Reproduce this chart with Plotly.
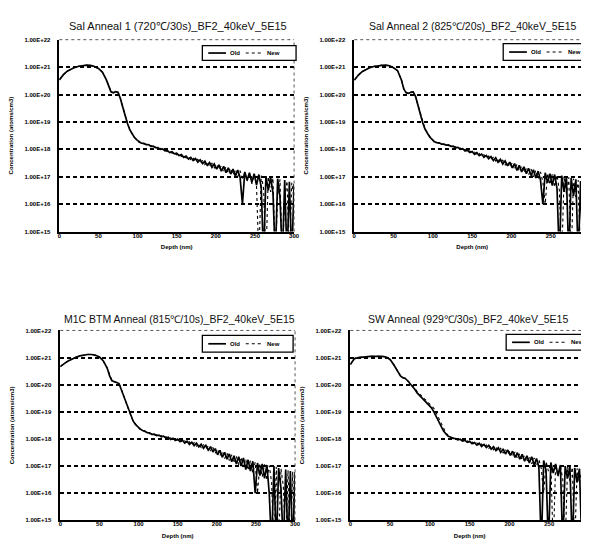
import plotly.graph_objects as go

# ---------------- data ----------------
depth = [0, 2, 5, 10, 15, 20, 25, 30, 35, 40, 45, 50, 55, 60, 63, 66, 69, 72, 75, 78, 81, 84, 87, 90, 93, 96, 99,
         102, 105, 108, 111, 114, 117, 120, 123, 126, 129, 132, 135, 138, 141, 144, 147, 150, 153, 156, 159,
         162, 165, 168, 171, 174, 177, 180, 183, 186, 189, 192, 195, 198, 201, 204, 207, 210, 213, 216, 219,
         222, 225, 228, 231, 234, 237, 240, 243, 246, 249, 252, 255, 258, 261, 264, 267, 270, 273, 276, 279,
         282, 285, 288, 291, 294, 297, 300]

p1_old = [3.4e20, 4.2e20, 5.2e20, 7.1e20, 8.5e20, 9.8e20, 1.07e21, 1.15e21, 1.17e21, 1.15e21, 1.05e21, 8.9e20, 6.6e20,
          3.5e20, 2.0e20, 1.26e20, 1.15e20, 1.26e20, 1.2e20, 7.1e19, 3.5e19, 1.6e19, 8.9e18, 5.2e18, 3.5e18, 2.7e18, 2.2e18,
          1.85e18, 1.68e18, 1.66e18, 1.47e18, 1.48e18, 1.29e18, 1.30e18, 1.14e18, 1.16e18, 1.0e18, 1.03e18, 8.8e17,
          9.1e17, 7.6e17, 8.1e17, 6.8e17, 7.2e17, 5.9e17, 6.4e17, 5.1e17, 5.7e17, 4.4e17, 5.1e17, 3.9e17, 4.6e17, 3.4e17,
          4.1e17, 3.0e17, 3.7e17, 2.6e17, 3.3e17, 2.2e17, 2.9e17, 1.9e17, 2.7e17, 1.6e17, 2.4e17, 1.4e17, 2.1e17,
          1.25e17, 1.9e17, 1.05e17, 1.75e17, 9.5e16, 1.0e16, 1.5e17, 7.5e16, 1.4e17, 6.2e16, 1.3e17, 5.0e16, 1.2e17,
          4.2e16, 1e14, 1.05e17, 3.2e16, 9.5e16, 2.6e16, 1e14, 8.5e16, 1.8e16, 1e14, 7.5e16, 1e14, 6.5e16, 1e14, 5.5e16]
p1_new = [3.5e20, 4.3e20, 5.3e20, 7.0e20, 8.6e20, 9.9e20, 1.08e21, 1.14e21, 1.16e21, 1.14e21, 1.04e21, 8.8e20, 6.5e20,
          3.6e20, 2.1e20, 1.3e20, 1.17e20, 1.25e20, 1.18e20, 7.4e19, 3.7e19, 1.7e19, 9.2e18, 5.4e18, 3.6e18, 2.8e18, 2.25e18,
          1.78e18, 1.75e18, 1.57e18, 1.55e18, 1.37e18, 1.38e18, 1.21e18, 1.22e18, 1.07e18, 1.09e18, 9.4e17, 9.6e17,
          8.2e17, 8.6e17, 7.2e17, 7.6e17, 6.3e17, 6.8e17, 5.4e17, 6.1e17, 4.8e17, 5.4e17, 4.2e17, 4.9e17, 3.7e17, 4.3e17,
          3.2e17, 3.9e17, 2.8e17, 3.5e17, 2.4e17, 3.1e17, 2.1e17, 2.8e17, 1.8e17, 2.5e17, 1.5e17, 2.3e17, 1.3e17,
          2.0e17, 1.15e17, 1.8e17, 1.0e17, 1.65e17, 8.5e16, 1.45e17, 7.0e16, 1.35e17, 5.5e16, 1.25e17, 4.6e16, 1e14,
          1.1e17, 3.8e16, 1e14, 1.0e17, 2.8e16, 9.0e16, 1e14, 2.2e16, 8.0e16, 1e14, 1.6e16, 7.0e16, 1e14, 6.0e16, 1.5e16]

p2_old = [3.3e20, 4.0e20, 5.0e20, 6.8e20, 8.3e20, 9.6e20, 1.05e21, 1.12e21, 1.16e21, 1.17e21, 1.12e21, 9.5e20, 7.5e20,
          3.4e20, 1.6e20, 1.15e20, 1.1e20, 1.2e20, 1.25e20, 8.5e19, 4.0e19, 1.8e19, 9.5e18, 5.5e18, 3.8e18, 2.8e18, 2.3e18,
          1.9e18, 1.75e18, 1.72e18, 1.55e18, 1.56e18, 1.42e18, 1.45e18, 1.28e18, 1.31e18, 1.14e18, 1.18e18, 1.0e18,
          1.05e18, 8.7e17, 9.4e17, 7.7e17, 8.3e17, 6.6e17, 7.5e17, 5.9e17, 6.7e17, 5.1e17, 6.0e17, 4.5e17, 5.4e17, 3.9e17,
          4.9e17, 3.4e17, 4.3e17, 2.9e17, 3.8e17, 2.5e17, 3.4e17, 2.1e17, 3.0e17, 1.7e17, 2.6e17, 1.5e17, 2.3e17,
          1.3e17, 2.0e17, 1.1e17, 1.8e17, 9.0e16, 1.6e17, 7.5e16, 1.0e16, 1.4e17, 6.0e16, 1.3e17, 4.8e16, 1.2e17,
          3.8e16, 1e14, 1.1e17, 2.8e16, 1.0e17, 1e14, 9.0e16, 2.0e16, 8.0e16, 1e14, 7.0e16, 1e14, 6.5e16, 1.2e16, 5.5e16]
p2_new = [3.4e20, 4.1e20, 5.1e20, 6.9e20, 8.4e20, 9.7e20, 1.06e21, 1.13e21, 1.16e21, 1.16e21, 1.11e21, 9.4e20, 7.3e20,
          3.5e20, 1.7e20, 1.18e20, 1.12e20, 1.22e20, 1.23e20, 8.3e19, 4.1e19, 1.9e19, 9.8e18, 5.7e18, 3.9e18, 2.9e18, 2.35e18,
          1.82e18, 1.8e18, 1.64e18, 1.62e18, 1.47e18, 1.5e18, 1.35e18, 1.38e18, 1.2e18, 1.24e18, 1.08e18, 1.1e18,
          9.5e17, 9.9e17, 8.4e17, 8.8e17, 7.3e17, 7.9e17, 6.4e17, 7.1e17, 5.6e17, 6.4e17, 4.9e17, 5.7e17, 4.3e17, 5.1e17,
          3.7e17, 4.6e17, 3.2e17, 4.0e17, 2.7e17, 3.6e17, 2.3e17, 3.2e17, 1.9e17, 2.8e17, 1.6e17, 2.5e17, 1.4e17,
          2.2e17, 1.2e17, 1.9e17, 1.0e17, 1.7e17, 8.5e16, 1.5e17, 6.5e16, 1.0e16, 1.35e17, 5.2e16, 1.25e17, 4.2e16,
          1.15e17, 3.2e16, 1e14, 1.05e17, 2.4e16, 9.5e16, 1e14, 8.5e16, 1.8e16, 7.5e16, 1e14, 6.8e16, 1.4e16, 1e14, 2.0e16]

p3_old = [4.6e20, 5.2e20, 6.0e20, 7.4e20, 8.9e20, 1.02e21, 1.15e21, 1.25e21, 1.3e21, 1.3e21, 1.22e21, 1.05e21, 7.5e20,
          4.0e20, 2.1e20, 1.4e20, 1.25e20, 1.2e20, 1.1e20, 6.5e19, 3.5e19, 2.0e19, 1.2e19, 7.0e18, 4.6e18, 3.4e18, 2.7e18,
          2.35e18, 2.05e18, 1.95e18, 1.7e18, 1.68e18, 1.47e18, 1.5e18, 1.33e18, 1.38e18, 1.2e18, 1.27e18, 1.07e18,
          1.15e18, 9.5e17, 1.06e18, 8.8e17, 9.8e17, 7.9e17, 9.0e17, 7.1e17, 8.2e17, 6.3e17, 7.6e17, 5.7e17, 7.0e17, 5.1e17,
          6.4e17, 4.5e17, 5.8e17, 3.9e17, 5.2e17, 3.3e17, 4.4e17, 2.6e17, 3.8e17, 2.1e17, 3.2e17, 1.8e17, 2.8e17,
          1.45e17, 2.4e17, 1.2e17, 2.2e17, 1.0e17, 2.0e17, 7.5e16, 1.7e17, 6.5e16, 1.5e17, 1.0e16, 1.3e17, 4.5e16,
          1.2e17, 3.5e16, 1.1e17, 1.0e16, 1e14, 1.0e17, 1e14, 8.5e16, 1.5e16, 1e14, 7.5e16, 1e14, 6.5e16, 1e14, 6.0e16]
p3_new = [4.7e20, 5.3e20, 6.1e20, 7.5e20, 9.0e20, 1.03e21, 1.16e21, 1.26e21, 1.31e21, 1.29e21, 1.21e21, 1.03e21, 7.3e20,
          4.1e20, 2.2e20, 1.42e20, 1.27e20, 1.22e20, 1.12e20, 6.8e19, 3.7e19, 2.1e19, 1.25e19, 7.3e18, 4.8e18, 3.5e18, 2.8e18,
          2.25e18, 2.15e18, 1.85e18, 1.8e18, 1.57e18, 1.57e18, 1.4e18, 1.43e18, 1.26e18, 1.32e18, 1.13e18, 1.21e18,
          1.01e18, 1.1e18, 9.3e17, 1.02e18, 8.5e17, 9.5e17, 7.6e17, 8.6e17, 6.8e17, 7.9e17, 6.0e17, 7.3e17, 5.4e17, 6.7e17,
          4.8e17, 6.1e17, 4.2e17, 5.5e17, 3.6e17, 4.8e17, 3.0e17, 4.1e17, 2.4e17, 3.5e17, 1.9e17, 3.0e17, 1.6e17,
          2.6e17, 1.3e17, 2.3e17, 1.1e17, 2.1e17, 9.0e16, 1.8e17, 7.0e16, 1.6e17, 5.5e16, 1.4e17, 1.0e16, 1.25e17,
          4.0e16, 1.15e17, 3.0e16, 1.05e17, 2.5e16, 1e14, 9.5e16, 1e14, 8.0e16, 1.8e16, 1e14, 7.0e16, 1e14, 6.2e16, 1e14]

p4_old = [5.5e20, 7.1e20, 9.1e20, 1.0e21, 1.05e21, 1.07e21, 1.1e21, 1.12e21, 1.12e21, 1.1e21, 1.05e21, 8.5e20, 5.2e20,
          2.8e20, 2.1e20, 1.8e20, 1.7e20, 1.4e20, 1.12e20, 8.9e19, 6.8e19, 5.0e19, 4.1e19, 3.3e19, 2.7e19, 2.1e19, 1.74e19,
          1.4e19, 1.0e19, 6.5e18, 4.4e18, 2.9e18, 2.0e18, 1.55e18, 1.25e18, 1.18e18, 1.05e18, 1.04e18, 9.2e17,
          9.7e17, 8.3e17, 8.9e17, 7.5e17, 8.2e17, 6.7e17, 7.4e17, 5.9e17, 6.9e17, 5.3e17, 6.3e17, 4.8e17, 5.8e17, 4.2e17,
          5.2e17, 3.7e17, 4.7e17, 3.2e17, 4.3e17, 2.8e17, 3.9e17, 2.5e17, 3.5e17, 2.1e17, 3.1e17, 1.8e17, 2.7e17,
          1.5e17, 2.4e17, 1.3e17, 2.2e17, 1.1e17, 1.9e17, 9.0e16, 1e14, 1.6e17, 7.0e16, 1e14, 1.35e17, 5.5e16,
          1.2e17, 4.5e16, 1.1e17, 1e14, 1.0e17, 3.5e16, 9.5e16, 1e14, 8.5e16, 2.5e16, 8.0e16, 1e14, 7.5e16, 1e14, 7.0e16]
p4_new = [5.6e20, 7.2e20, 9.2e20, 1.01e21, 1.06e21, 1.08e21, 1.1e21, 1.12e21, 1.12e21, 1.1e21, 1.04e21, 8.4e20, 5.3e20,
          2.9e20, 2.15e20, 1.85e20, 1.72e20, 1.45e20, 1.18e20, 9.5e19, 7.4e19, 5.6e19, 4.6e19, 3.8e19, 3.1e19, 2.5e19, 2.1e19,
          1.75e19, 1.35e19, 9.0e18, 5.8e18, 3.6e18, 2.4e18, 1.7e18, 1.35e18, 1.12e18, 1.1e18, 9.7e17, 1.0e18,
          8.8e17, 9.2e17, 8.0e17, 8.5e17, 7.1e17, 7.7e17, 6.3e17, 7.1e17, 5.6e17, 6.5e17, 5.0e17, 6.0e17, 4.5e17, 5.5e17,
          4.0e17, 5.0e17, 3.5e17, 4.5e17, 3.0e17, 4.1e17, 2.7e17, 3.7e17, 2.3e17, 3.3e17, 1.9e17, 2.9e17, 1.65e17,
          2.5e17, 1.4e17, 2.3e17, 1.2e17, 2.0e17, 1.0e17, 1.75e17, 8.0e16, 1.0e16, 1.45e17, 6.5e16, 1.3e17, 1e14,
          1.15e17, 4.0e16, 1.05e17, 3.2e16, 1e14, 9.5e16, 2.8e16, 9.0e16, 1e14, 8.2e16, 2.2e16, 7.8e16, 1e14, 7.2e16, 1.8e16]

titles = ["Sal Anneal 1 (720℃/30s)_BF2_40keV_5E15",
          "Sal Anneal 2 (825℃/20s)_BF2_40keV_5E15",
          "M1C BTM Anneal (815℃/10s)_BF2_40keV_5E15",
          "SW Anneal (929℃/30s)_BF2_40keV_5E15"]
series_names = ["Old", "New"]
x_ticks = [0, 50, 100, 150, 200, 250, 300]
y_ticks = [1e15, 1e16, 1e17, 1e18, 1e19, 1e20, 1e21, 1e22]
y_tick_text = ["1.00E+15", "1.00E+16", "1.00E+17", "1.00E+18", "1.00E+19", "1.00E+20", "1.00E+21", "1.00E+22"]
grid_vals = [1e16, 1e17, 1e18, 1e19, 1e20, 1e21]
x_title = "Depth (nm)"
y_title = "Concentration (atoms/cm3)"

panels = [(p1_old, p1_new), (p2_old, p2_new), (p3_old, p3_new), (p4_old, p4_new)]

# ---------------- layout / style ----------------
W, H = 589, 544
px_boxes = [(50, 288, 29, 223), (349, 588, 29, 223), (51, 289, 323, 515), (345, 587, 323, 515)]
title_pos = [(170, 15), (469, 15), (172, 311), (464, 311)]
title_size = [11, 10.5, 10.5, 10.5]
legend_boxes = [(195, 290, 35, 50), (500, 587, 33, 50), (195, 287, 328, 345), (503, 583, 327, 343)]
line_styles = [dict(color="black", width=1.7), dict(color="black", width=1.1, dash="dot")]

FONT = "Liberation Sans, Arial, sans-serif"
fig = go.Figure()
layout = dict(width=W, height=H, margin=dict(l=0, r=0, t=0, b=0), showlegend=False,
              paper_bgcolor="white", plot_bgcolor="white",
              font=dict(family=FONT, color="black"), shapes=[], annotations=[])


def px(xp, yp):
    return xp / W, 1 - yp / H


for i, (old, new) in enumerate(panels):
    n = i + 1
    sfx = "" if n == 1 else str(n)
    for name, vals, st in zip(series_names, (old, new), line_styles):
        fig.add_trace(go.Scatter(x=depth, y=vals, mode="lines", name=name, line=st,
                                 xaxis="x" + sfx, yaxis="y" + sfx))
    l, r, t, b = px_boxes[i]
    layout["xaxis" + sfx] = dict(domain=[l / W, r / W], anchor="y" + sfx, range=[0, 300],
                                 tickmode="array", tickvals=x_ticks, showgrid=False, zeroline=False,
                                 showline=True, linecolor="black", linewidth=1.6, ticks="",
                                 ticklabelstandoff=-3,
                                 tickfont=dict(size=6, weight="bold"),
                                 title=dict(text=x_title, font=dict(size=6, weight="bold"), standoff=7))
    layout["yaxis" + sfx] = dict(domain=[1 - b / H, 1 - t / H], anchor="x" + sfx, type="log", range=[15, 22],
                                 tickmode="array", tickvals=y_ticks, ticktext=y_tick_text,
                                 showgrid=False, zeroline=False, showline=True, linecolor="black",
                                 linewidth=1.6, ticks="", ticklabelstandoff=6,
                                 minor=dict(tickmode="array", tickvals=grid_vals, showgrid=True,
                                            gridcolor="black", griddash="4px,3px", gridwidth=1.5, ticks=""),
                                 tickfont=dict(size=6, weight="bold"),
                                 title=dict(text=y_title, font=dict(size=6, weight="bold"), standoff=10))
    # dotted top and right frame
    layout["shapes"].append(dict(type="line", xref="x" + sfx + " domain", yref="y" + sfx + " domain",
                                 x0=0, x1=1, y0=1, y1=1, line=dict(color="#555", width=1, dash="dot")))
    layout["shapes"].append(dict(type="line", xref="x" + sfx + " domain", yref="y" + sfx + " domain",
                                 x0=1, x1=1, y0=0, y1=1, line=dict(color="#555", width=1, dash="dot")))
    tx, ty = title_pos[i]
    layout["annotations"].append(dict(text=titles[i], xref="paper", yref="paper", x=tx / W, y=1 - ty / H,
                                      xanchor="center", yanchor="middle", showarrow=False,
                                      font=dict(size=title_size[i], color="#111")))
    # legend box
    bx0, bx1, by0, by1 = legend_boxes[i]
    a0, b0 = px(bx0, by0)
    a1, b1 = px(bx1, by1)
    layout["shapes"].append(dict(type="rect", xref="paper", yref="paper", x0=a0, x1=a1, y0=b1, y1=b0,
                                 fillcolor="white", line=dict(color="black", width=1.3), layer="above"))
    ym = (by0 + by1) / 2
    for k, (name, st) in enumerate(zip(series_names, line_styles)):
        lx0 = bx0 + 6 + 38 * k
        lx1 = lx0 + 18
        layout["shapes"].append(dict(type="line", xref="paper", yref="paper",
                                     x0=lx0 / W, x1=lx1 / W, y0=1 - ym / H, y1=1 - ym / H,
                                     line=st, layer="above"))
        layout["annotations"].append(dict(text="<b>" + name + "</b>", xref="paper", yref="paper",
                                          x=(lx1 + 2) / W, y=1 - ym / H, xanchor="left", yanchor="middle",
                                          showarrow=False, font=dict(size=6)))

fig.update_layout(**layout)
fig.write_html("out.html")
